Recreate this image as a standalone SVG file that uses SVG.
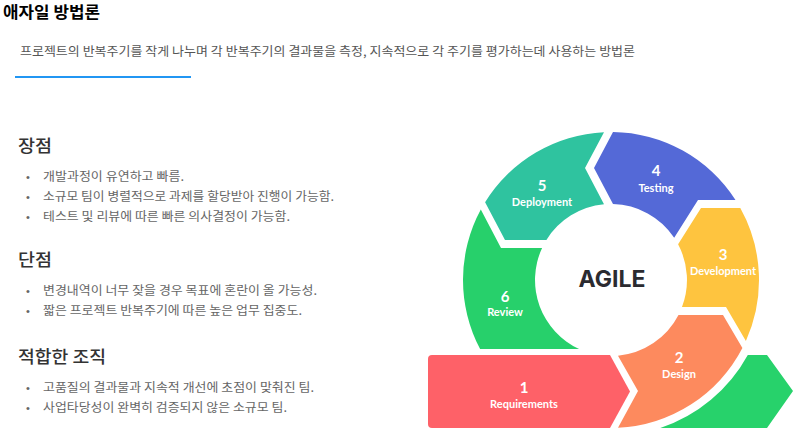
<svg xmlns="http://www.w3.org/2000/svg" width="797" height="442" viewBox="0 0 797 442">
<style>
.kr{font-family:"Noto Sans CJK KR","Noto Sans",sans-serif}
.title{font-size:16px;font-weight:700;fill:#000}
.sub{font-size:12.5px;fill:#555}
.h{font-size:17px;font-weight:500;fill:#333}
.li{font-size:12px;fill:#666}
.dot{font-family:"Liberation Sans",sans-serif;font-size:11px;fill:#666}
.num{font-family:Lato,"Noto Sans",sans-serif;font-size:15px;font-weight:700;fill:#fff;text-anchor:middle}
.lab{font-family:Lato,"Noto Sans",sans-serif;font-size:11px;font-weight:700;fill:#fff;text-anchor:middle}
</style>
<rect width="797" height="442" fill="#fff"/>
<g id="header">
<text class="kr title" x="3" y="18" textLength="97" lengthAdjust="spacingAndGlyphs">애자일 방법론</text>
<text class="kr sub" x="20" y="56" textLength="615" lengthAdjust="spacingAndGlyphs">프로젝트의 반복주기를 작게 나누며 각 반복주기의 결과물을 측정, 지속적으로 각 주기를 평가하는데 사용하는 방법론</text>
<rect x="15" y="76" width="176" height="2" fill="#2196f3"/>
</g>
<g id="pros">
<text class="kr h" x="18" y="152" textLength="34" lengthAdjust="spacingAndGlyphs">장점</text>
<text class="dot" x="26" y="181">•</text>
<text class="kr li" x="43" y="181" textLength="141" lengthAdjust="spacingAndGlyphs">개발과정이 유연하고 빠름.</text>
<text class="dot" x="26" y="201">•</text>
<text class="kr li" x="43" y="201" textLength="291" lengthAdjust="spacingAndGlyphs">소규모 팀이 병렬적으로 과제를 할당받아 진행이 가능함.</text>
<text class="dot" x="26" y="221">•</text>
<text class="kr li" x="43" y="221" textLength="247" lengthAdjust="spacingAndGlyphs">테스트 및 리뷰에 따른 빠른 의사결정이 가능함.</text>
</g>
<g id="cons">
<text class="kr h" x="18" y="266" textLength="34" lengthAdjust="spacingAndGlyphs">단점</text>
<text class="dot" x="26" y="295">•</text>
<text class="kr li" x="43" y="295" textLength="274" lengthAdjust="spacingAndGlyphs">변경내역이 너무 잦을 경우 목표에 혼란이 올 가능성.</text>
<text class="dot" x="26" y="315">•</text>
<text class="kr li" x="43" y="315" textLength="259" lengthAdjust="spacingAndGlyphs">짧은 프로젝트 반복주기에 따른 높은 업무 집중도.</text>
</g>
<g id="fit">
<text class="kr h" x="18" y="363" textLength="88" lengthAdjust="spacingAndGlyphs">적합한 조직</text>
<text class="dot" x="26" y="392">•</text>
<text class="kr li" x="43" y="392" textLength="271" lengthAdjust="spacingAndGlyphs">고품질의 결과물과 지속적 개선에 초점이 맞춰진 팀.</text>
<text class="dot" x="26" y="412">•</text>
<text class="kr li" x="43" y="412" textLength="244" lengthAdjust="spacingAndGlyphs">사업타당성이 완벽히 검증되지 않은 소규모 팀.</text>
</g>
<g id="connectors"></g>
<g id="review">
<path d="M480.8,209.6 L501,248 L542.1,248 A76,76 0 0 0 579.1,349 L480.1,349 A148,148 0 0 1 480.8,209.6 Z" fill="#27d06b"/>
<text class="num" x="505" y="302">6</text>
<text class="lab" x="505" y="316">Review</text>
</g>
<g id="deployment">
<path d="M604,132.2 L585,168 L604,204.3 A76,76 0 0 0 546.4,240 L505,240 L485.1,202.2 A148,148 0 0 1 604,132.2 Z" fill="#2fc39f"/>
<text class="num" x="542" y="191">5</text>
<text class="lab" x="542" y="206">Deployment</text>
</g>
<g id="testing">
<path d="M613,132 L594,168 L613,204.1 A76,76 0 0 1 674.2,237.7 L698,200 L735.5,200 A148,148 0 0 0 613,132 Z" fill="#5469d7"/>
<text class="num" x="656" y="176">4</text>
<text class="lab" x="656" y="192">Testing</text>
</g>
<g id="development">
<path d="M740.3,208 L701,208 L678.1,244.3 A76,76 0 0 1 682,307 L726,307 L745.9,340.9 A148,148 0 0 0 740.3,208 Z" fill="#fec43f"/>
<text class="num" x="723" y="260">3</text>
<text class="lab" x="723" y="275">Development</text>
</g>
<g id="design">
<path d="M678.5,315 L723,315 L742.4,348 A148,148 0 0 1 618,427.8 L638,391 L618,355.7 A76,76 0 0 0 678.5,315 Z" fill="#fd8a5e"/>
<text class="num" x="679" y="363">2</text>
<text class="lab" x="679" y="378">Design</text>
</g>
<g id="requirements">
<path d="M432,355 L610,355 L630,391.5 L610,428 L432,428 Q428,428 428,424 L428,359 Q428,355 432,355 Z" fill="#fe6168"/>
<text class="num" x="524" y="393">1</text>
<text class="lab" x="524" y="408">Requirements</text>
</g>
<g id="exit">
<path d="M660.3,428 A156,156 0 0 0 747.8,355 L767,355 L793,391 L767,428 Z" fill="#27d26b"/>
</g>
<g id="center">
<text x="612" y="287" font-family="Inter,Lato,sans-serif" font-size="23" font-weight="700" fill="#2b2b30" text-anchor="middle">AGILE</text>
</g>
</svg>
